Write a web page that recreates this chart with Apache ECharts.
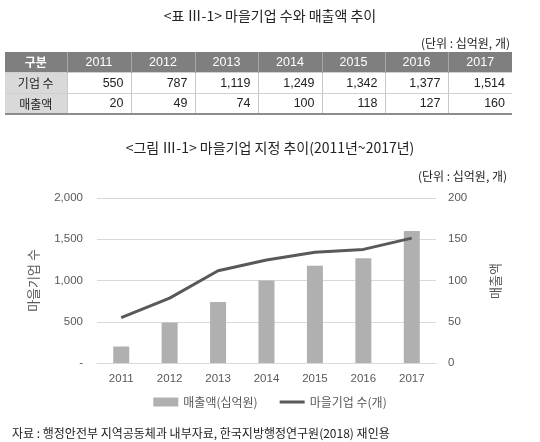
<!DOCTYPE html>
<html><head><meta charset="utf-8">
<script src="https://cdn.jsdelivr.net/npm/echarts@6/dist/echarts.min.js"></script>
<style>
html,body{margin:0;padding:0;background:#fff;width:540px;height:442px;overflow:hidden;}
#chart{position:absolute;left:0;top:0;width:540px;height:442px;}
#tbl{position:absolute;left:5px;top:52px;border-collapse:collapse;font-family:"Liberation Sans",Arial,"Noto Sans CJK KR",sans-serif;font-size:12.5px;color:#222;table-layout:fixed;}
#tbl td,#tbl th{padding:0 4px;box-sizing:border-box;}
#tbl th{background:#7f7f7f;color:#fff;font-weight:normal;height:20px;border-left:1px solid #a6a6a6;text-align:center;}
#tbl th:first-child{border-left:none;font-family:"Noto Sans CJK KR",sans-serif;font-weight:bold;font-size:12px;}
#tbl td{height:21px;border-left:1px solid #c8c8c8;border-top:1px solid #d0d0d0;text-align:right;padding-right:7px;}
#tbl td.h{background:#d9d9d9;text-align:center;border-left:none;font-family:"Noto Sans CJK KR",sans-serif;font-size:12px;padding-right:4px;}
#tbl tr.last td{border-bottom:2px solid #8c8c8c;}
.txt{position:absolute;font-family:"Noto Sans CJK KR",sans-serif;color:#222;white-space:nowrap;}
</style></head>
<body>
<div id="chart"></div>
<div class="txt" style="left:0;width:540px;text-align:center;top:5px;font-size:14px;">&lt;표 Ⅲ-1&gt; 마을기업 수와 매출액 추이</div>
<div class="txt" style="right:30px;top:34px;font-size:12px;">(단위 : 십억원, 개)</div>
<table id="tbl"></table>
<script>
var years = ['2011','2012','2013','2014','2015','2016','2017'];
var companyCount = [550, 787, 1119, 1249, 1342, 1377, 1514];
var salesAmount = [20, 49, 74, 100, 118, 127, 160];
var leftTicks = [0, 500, 1000, 1500, 2000];
var rightTicks = [0, 50, 100, 150, 200];
var colWidths = [62, 64, 64, 63, 64, 63, 63, 64];

// Table
var tbl = document.getElementById('tbl');
var cg = '<colgroup>' + colWidths.map(function(w){return '<col style="width:'+w+'px">';}).join('') + '</colgroup>';
var head = '<tr><th>구분</th>' + years.map(function(y){return '<th>'+y+'</th>';}).join('') + '</tr>';
var r1 = '<tr><td class="h">기업 수</td>' + companyCount.map(function(v){return '<td>'+v.toLocaleString('en-US')+'</td>';}).join('') + '</tr>';
var r2 = '<tr class="last"><td class="h">매출액</td>' + salesAmount.map(function(v){return '<td>'+v+'</td>';}).join('') + '</tr>';
tbl.innerHTML = cg + head + r1 + r2;

var chart = echarts.init(document.getElementById('chart'));
var ff = '"Noto Sans CJK KR", sans-serif';
var lblColor = '#595959';
chart.setOption({
  animation: false,
  textStyle: {fontFamily: ff},
  title: [
    {text: '<그림 Ⅲ-1> 마을기업 지정 추이(2011년~2017년)', left: 'center', top: 136,
     textStyle: {fontSize: 14, fontWeight: 'normal', color: '#222', fontFamily: ff}},
    {text: '(단위 : 십억원, 개)', right: 28, top: 165,
     textStyle: {fontSize: 12, fontWeight: 'normal', color: '#222', fontFamily: ff}}
  ],
  grid: {left: 97, right: 104, top: 198, bottom: 79},
  legend: {
    bottom: 29, left: 'center', itemGap: 22, itemWidth: 25, itemHeight: 9,
    textStyle: {fontSize: 12, color: lblColor, fontFamily: ff},
    data: [
      {name: '매출액(십억원)', icon: 'rect'},
      {name: '마을기업 수(개)', icon: 'path://M0,4 L25,4 L25,7 L0,7 Z'}
    ]
  },
  graphic: [
    {type: 'text', x: 495, y: 281, rotation: Math.PI / 2,
     style: {text: '매출액', fill: lblColor, font: '13px "Noto Sans CJK KR", sans-serif',
             align: 'center', verticalAlign: 'middle'}}
  ],
  xAxis: {
    type: 'category', data: years,
    axisLine: {lineStyle: {color: '#d9d9d9'}}, axisTick: {show: false},
    axisLabel: {color: lblColor, fontSize: 11.5, margin: 10, fontFamily: '"Liberation Sans", Arial, sans-serif'}
  },
  yAxis: [
    {type: 'value', min: 0, max: 2000, interval: 500,
     name: '마을기업 수', nameLocation: 'middle', nameRotate: 90, nameGap: 57,
     nameTextStyle: {color: lblColor, fontSize: 13, fontFamily: ff},
     axisLabel: {color: lblColor, fontSize: 11.5, margin: 14, fontFamily: '"Liberation Sans", Arial, sans-serif',
       formatter: function(v){ return v === 0 ? '-' : v.toLocaleString('en-US'); }},
     splitLine: {lineStyle: {color: '#d9d9d9'}}, axisLine: {show: false}, axisTick: {show: false}},
    {type: 'value', min: 0, max: 200, interval: 50,
     axisLabel: {color: lblColor, fontSize: 11.5, margin: 12, fontFamily: '"Liberation Sans", Arial, sans-serif'},
     splitLine: {show: false}, axisLine: {show: false}, axisTick: {show: false}}
  ],
  series: [
    {name: '매출액(십억원)', type: 'bar', yAxisIndex: 1, data: salesAmount, barWidth: 16,
     itemStyle: {color: '#b0b0b0'}},
    {name: '마을기업 수(개)', type: 'line', yAxisIndex: 0, data: companyCount,
     symbol: 'none', lineStyle: {color: '#595959', width: 3}, itemStyle: {color: '#595959'}}
  ]
});
</script>
<div class="txt" style="left:12px;top:424px;font-size:12px;">자료 : 행정안전부 지역공동체과 내부자료, 한국지방행정연구원(2018) 재인용</div>
</body></html>
